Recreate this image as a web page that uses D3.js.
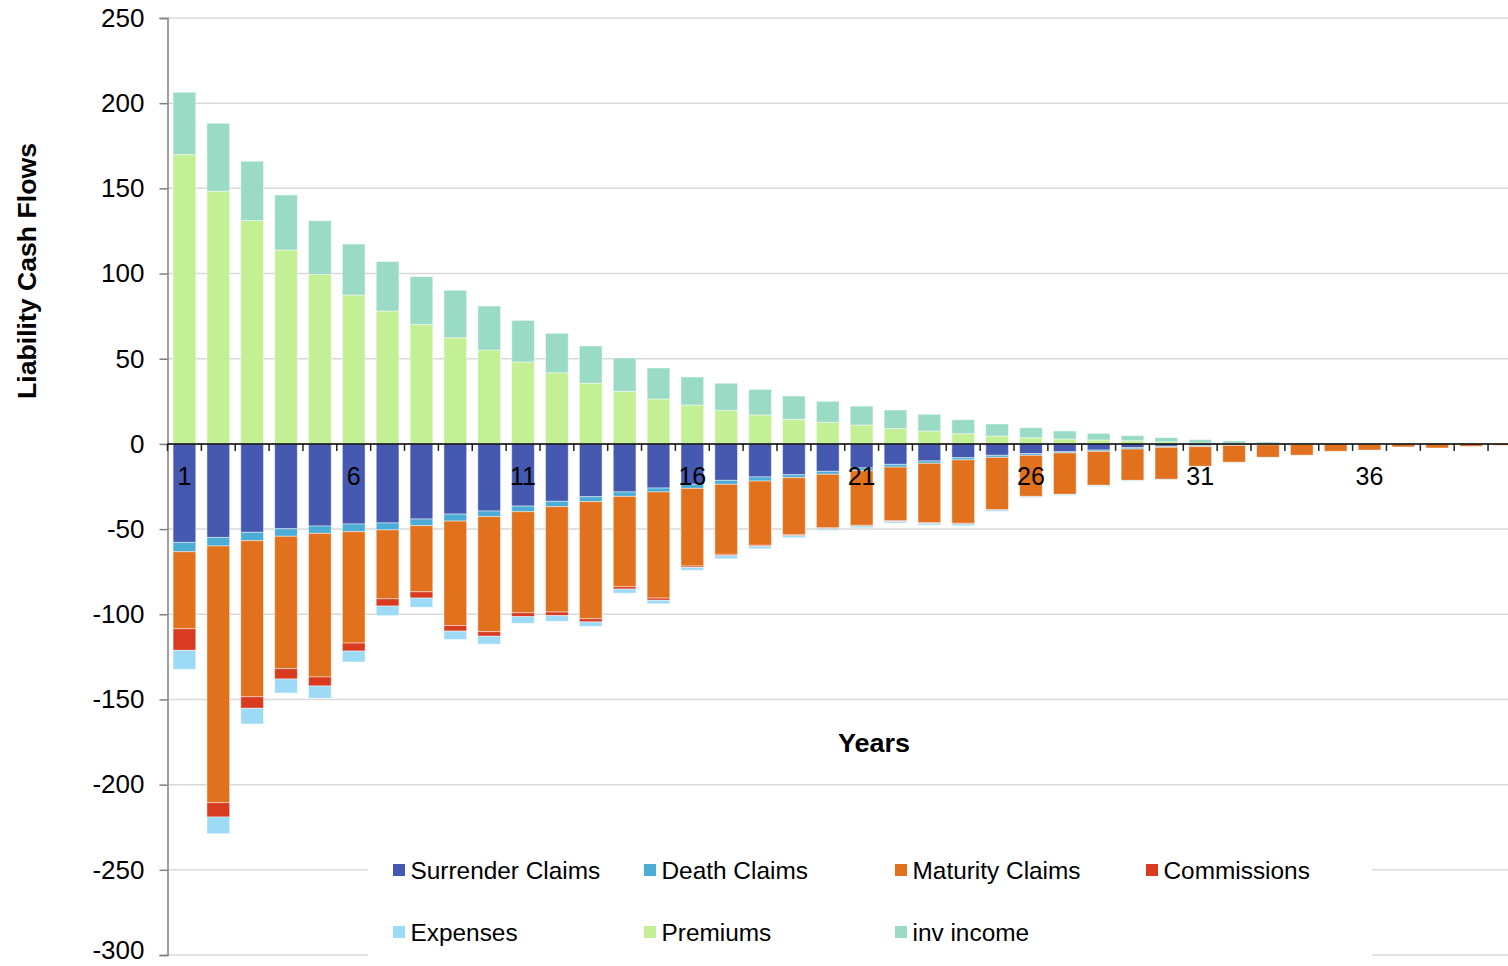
<!DOCTYPE html>
<html>
<head>
<meta charset="utf-8">
<script src="https://cdn.jsdelivr.net/npm/d3@7"></script>
<style>
  html, body { margin: 0; padding: 0; background: #fff; }
  svg { display: block; font-family: Arial, "Liberation Sans", sans-serif; }
</style>
</head>
<body>
<svg id="chart" width="1508" height="966"></svg>
<script>
// Policy years (categories) and the labels shown on the axis
const years = d3.range(1, 41).map(String);
const yearLabels = ["1", "6", "11", "16", "21", "26", "31", "36"];
const yTicks = [250, 200, 150, 100, 50, 0, -50, -100, -150, -200, -250, -300];

// Outgo (negative) series
const surrenderClaims = [-57.8, -54.9, -51.9, -49.8, -48.2, -47.0, -46.4, -44.1, -41.2, -39.4,
  -36.5, -33.7, -31.0, -28.2, -25.9, -23.7, -21.4, -19.4, -18.1, -16.1,
  -14.1, -12.0, -10.0, -8.1, -6.7, -5.7, -4.6, -3.6, -2.2, -1.4,
  -1.0, -0.6, -0.3, -0.2, -0.1, 0, 0, 0, 0, 0];
const deathClaims = [-5.5, -5.0, -4.9, -4.4, -4.3, -4.5, -4.1, -3.9, -4.1, -3.3,
  -3.3, -3.1, -2.9, -2.6, -2.3, -2.4, -2.3, -2.4, -1.7, -1.7,
  -1.6, -1.6, -1.4, -1.3, -1.2, -1.0, -0.7, -0.8, -0.8, -0.6,
  -0.6, -0.3, -0.2, -0.1, 0, 0, 0, 0, 0, 0];
const maturityClaims = [-45.2, -150.7, -91.6, -77.7, -84.3, -65.4, -40.4, -38.8, -61.3, -67.5,
  -59.3, -61.9, -68.7, -53.0, -62.3, -45.6, -41.1, -37.7, -33.5, -31.4,
  -32.1, -31.5, -34.8, -37.2, -30.7, -24.1, -24.3, -19.9, -18.4, -18.8,
  -11.6, -9.9, -7.4, -6.4, -4.3, -3.6, -1.8, -2.4, -1.4, -0.8];
const commissions = [-12.7, -8.4, -6.8, -6.1, -5.3, -4.7, -4.3, -3.7, -3.3, -2.7,
  -2.3, -2.1, -1.9, -1.4, -1.3, -0.8, -0.8, -0.6, -0.6, -0.6,
  -0.4, -0.4, -0.4, -0.4, -0.2, -0.2, -0.1, -0.1, -0.1, 0,
  0, 0, 0, 0, 0, 0, 0, 0, 0, 0];
const expenses = [-11.1, -9.8, -9.2, -8.2, -7.2, -6.4, -5.6, -5.4, -4.9, -4.6,
  -3.9, -3.3, -2.6, -2.4, -2.0, -1.7, -1.8, -1.4, -1.2, -0.9,
  -1.0, -0.9, -1.0, -1.0, -0.8, -0.5, -0.6, -0.5, -0.4, -0.3,
  -0.2, -0.2, -0.1, -0.1, -0.1, 0, 0, 0, 0, 0];

// Income (positive) series
const premiums = [169.8, 148.4, 131.2, 113.8, 99.5, 87.4, 78.0, 70.2, 62.3, 55.1,
  48.1, 41.8, 35.7, 30.9, 26.4, 22.8, 19.7, 17.0, 14.4, 12.7,
  11.1, 9.1, 7.6, 6.0, 4.6, 3.6, 2.9, 2.3, 1.9, 1.2,
  0.5, 0.2, 0, 0, 0, 0, 0, 0, 0, 0];
const invIncome = [36.6, 39.8, 34.7, 32.3, 31.5, 29.9, 29.0, 28.0, 27.9, 25.8,
  24.4, 23.1, 21.8, 19.5, 18.2, 16.5, 15.9, 15.0, 13.7, 12.3,
  11.1, 10.8, 9.8, 8.2, 7.1, 5.9, 4.7, 3.9, 2.9, 2.5,
  2.0, 1.5, 1.1, 0.6, 0.4, 0.2, 0.1, 0, 0, 0];

const seriesNames = ["Surrender Claims", "Death Claims", "Maturity Claims", "Commissions",
  "Expenses", "Premiums", "inv income"];
const seriesValues = [surrenderClaims, deathClaims, maturityClaims, commissions,
  expenses, premiums, invIncome];
const seriesColors = ["#4559B0", "#4BACD6", "#E2711D", "#D83B20", "#9DDAF5", "#C3EF95", "#9ADBC5"];

// Row table for d3.stack
const table = years.map((yr, i) => {
  const row = { year: yr };
  seriesNames.forEach((name, s) => { row[name] = seriesValues[s][i]; });
  return row;
});

const svg = d3.select("#chart");
const plotLeft = 167.5, plotTop = 18, plotBottom = 955, step = 33.86;

const x = d3.scaleBand()
  .domain(years)
  .range([plotLeft, plotLeft + step * years.length])
  .paddingInner(0.33)
  .paddingOuter(0.165);
const y = d3.scaleLinear().domain([-300, 250]).range([plotBottom, plotTop]);

// Horizontal gridlines
svg.append("g")
  .selectAll("line")
  .data(yTicks)
  .join("line")
  .attr("x1", plotLeft).attr("x2", 1508)
  .attr("y1", d => y(d)).attr("y2", d => y(d))
  .attr("stroke", "#d9d9d9").attr("stroke-width", 1.5);

// Stacked bars, diverging around zero
const stacked = d3.stack().keys(seriesNames).offset(d3.stackOffsetDiverging)(table);

svg.append("g")
  .selectAll("g")
  .data(stacked)
  .join("g")
  .attr("fill", (d, i) => seriesColors[i])
  .selectAll("rect")
  .data(d => d)
  .join("rect")
  .attr("x", d => x(d.data.year))
  .attr("width", x.bandwidth())
  .attr("y", d => y(Math.max(d[0], d[1])))
  .attr("height", d => Math.abs(y(d[0]) - y(d[1])))
  .attr("stroke", "rgba(255,255,255,0.45)")
  .attr("stroke-width", 1);

// Y axis
const yAxis = svg.append("g")
  .attr("transform", `translate(${plotLeft},0)`)
  .call(d3.axisLeft(y).tickValues(yTicks).tickSize(8).tickPadding(15).tickFormat(d => String(d)));
yAxis.select(".domain").attr("stroke", "#808080").attr("stroke-width", 1.5);
yAxis.selectAll(".tick line").attr("stroke", "#808080").attr("stroke-width", 1.5);
yAxis.selectAll(".tick text")
  .attr("font-size", 26)
  .attr("font-family", "Arial, 'Liberation Sans', sans-serif")
  .attr("fill", "#000");
// keep the lowest label inside the frame
yAxis.selectAll(".tick").filter(d => d === -300).select("text").attr("dy", "0.15em");

// X axis at zero: boundary ticks between years
const boundaries = years.map(yr => x(yr) - x.step() * x.paddingInner() / 2);
boundaries.push(x(years[years.length - 1]) + x.bandwidth() + x.step() * x.paddingInner() / 2);
svg.append("g")
  .selectAll("line")
  .data(boundaries)
  .join("line")
  .attr("x1", d => d).attr("x2", d => d)
  .attr("y1", y(0)).attr("y2", y(0) + 7)
  .attr("stroke", "#222").attr("stroke-width", 1.5);

svg.append("line")
  .attr("x1", plotLeft).attr("x2", 1508)
  .attr("y1", y(0)).attr("y2", y(0))
  .attr("stroke", "#000").attr("stroke-width", 1.5);

// Year labels drawn over the bars
svg.append("g")
  .selectAll("text")
  .data(yearLabels)
  .join("text")
  .attr("x", d => x(d) + x.bandwidth() / 2)
  .attr("y", y(0) + 41)
  .attr("text-anchor", "middle")
  .attr("font-size", 25)
  .attr("fill", "#000")
  .text(d => d);

// Axis titles
svg.append("text")
  .attr("transform", "translate(36,271) rotate(-90)")
  .attr("text-anchor", "middle")
  .attr("font-size", 25)
  .attr("font-weight", "bold")
  .attr("textLength", 256)
  .attr("lengthAdjust", "spacingAndGlyphs")
  .attr("fill", "#000")
  .text("Liability Cash Flows");

svg.append("text")
  .attr("x", 874)
  .attr("y", 752)
  .attr("text-anchor", "middle")
  .attr("font-size", 26)
  .attr("font-weight", "bold")
  .attr("textLength", 72)
  .attr("lengthAdjust", "spacingAndGlyphs")
  .attr("fill", "#000")
  .text("Years");

// Legend on a white panel
const legend = svg.append("g");
legend.append("rect")
  .attr("x", 368).attr("y", 848)
  .attr("width", 1004).attr("height", 118)
  .attr("fill", "#fff");

const items = legend.selectAll("g.item")
  .data(seriesNames)
  .join("g")
  .attr("class", "item")
  .attr("transform", (d, i) => `translate(${393 + (i % 4) * 251},${i < 4 ? 870 : 932})`);
items.append("rect")
  .attr("x", 0).attr("y", -6)
  .attr("width", 12).attr("height", 12)
  .attr("fill", (d, i) => seriesColors[i]);
items.append("text")
  .attr("x", 17.5).attr("y", 8.5)
  .attr("font-size", 24.4)
  .attr("fill", "#000")
  .text(d => d);
</script>
</body>
</html>
